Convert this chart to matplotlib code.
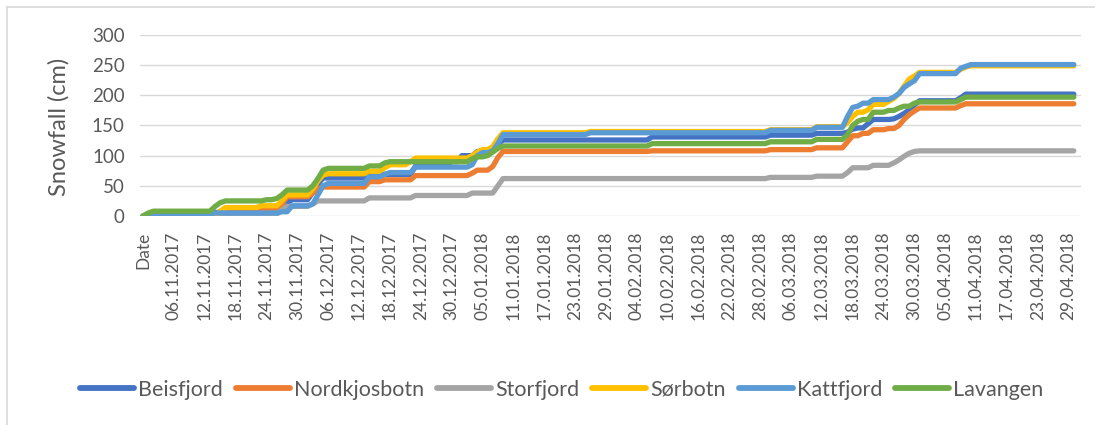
import pandas as pd
import numpy as np
import matplotlib
matplotlib.use("Agg")
import matplotlib.pyplot as plt
from matplotlib.lines import Line2D

# ---------------------------------------------------------------
# data: new snow per day (cm), only the days with snowfall listed
# ---------------------------------------------------------------
stations = ["Beisfjord", "Nordkjosbotn", "Storfjord", "Sørbotn", "Kattfjord", "Lavangen"]
colors = ["#4472C4", "#ED7D31", "#A5A5A5", "#FFC000", "#5B9BD5", "#70AD47"]

beisfjord_days = ["01.11.2017", "14.11.2017", "16.11.2017", "27.11.2017", "28.11.2017", "29.11.2017",
                  "03.12.2017", "04.12.2017", "05.12.2017", "14.12.2017", "23.12.2017", "30.12.2017",
                  "01.01.2018", "04.01.2018", "08.01.2018", "09.01.2018", "07.02.2018", "02.03.2018",
                  "11.03.2018", "17.03.2018", "18.03.2018", "19.03.2018", "21.03.2018", "22.03.2018",
                  "26.03.2018", "27.03.2018", "28.03.2018", "29.03.2018", "30.03.2018", "31.03.2018",
                  "08.04.2018", "09.04.2018"]
beisfjord_cm = [3, 3, 2, 6, 8, 5, 12, 14, 10, 6, 14, 7, 10, 7, 12, 7, 5, 3, 3, 2, 5, 2, 7, 7,
                1, 4, 5, 6, 8, 7, 5, 6]

nordkjosbotn_days = ["15.11.2017", "16.11.2017", "27.11.2017", "28.11.2017", "03.12.2017", "04.12.2017",
                     "05.12.2017", "14.12.2017", "17.12.2017", "23.12.2017", "03.01.2018", "04.01.2018",
                     "07.01.2018", "08.01.2018", "09.01.2018", "07.02.2018", "02.03.2018", "11.03.2018",
                     "17.03.2018", "18.03.2018", "20.03.2018", "22.03.2018", "25.03.2018", "27.03.2018",
                     "28.03.2018", "29.03.2018", "30.03.2018", "31.03.2018", "08.04.2018", "09.04.2018"]
nordkjosbotn_cm = [8, 2, 10, 12, 6, 7, 3, 9, 3, 7, 4, 5, 6, 15, 10, 1, 2, 3, 10, 10, 4, 6, 2, 5,
                   10, 8, 6, 5, 4, 3]

storfjord_days = ["15.11.2017", "27.11.2017", "28.11.2017", "03.12.2017", "04.12.2017", "14.12.2017",
                  "23.12.2017", "03.01.2018", "08.01.2018", "09.01.2018", "02.03.2018", "11.03.2018",
                  "17.03.2018", "18.03.2018", "22.03.2018", "26.03.2018", "27.03.2018", "28.03.2018",
                  "29.03.2018", "30.03.2018", "31.03.2018"]
storfjord_cm = [3, 7, 6, 4, 5, 5, 4, 4, 12, 12, 2, 2, 6, 8, 4, 4, 5, 6, 5, 3, 1]

sorbotn_days = ["15.11.2017", "16.11.2017", "23.11.2017", "27.11.2017", "28.11.2017", "03.12.2017",
                "04.12.2017", "05.12.2017", "06.12.2017", "14.12.2017", "17.12.2017", "18.12.2017",
                "22.12.2017", "23.12.2017", "03.01.2018", "04.01.2018", "05.01.2018", "07.01.2018",
                "08.01.2018", "09.01.2018", "26.01.2018", "02.03.2018", "11.03.2018", "17.03.2018",
                "18.03.2018", "19.03.2018", "21.03.2018", "22.03.2018", "25.03.2018", "26.03.2018",
                "27.03.2018", "28.03.2018", "29.03.2018", "30.03.2018", "31.03.2018", "08.04.2018",
                "09.04.2018", "10.04.2018"]
sorbotn_cm = [8, 6, 3, 8, 10, 10, 13, 10, 2, 4, 6, 5, 5, 6, 4, 6, 4, 5, 13, 10, 2, 3, 5, 7,
              10, 7, 4, 9, 5, 5, 8, 12, 12, 5, 6, 5, 4, 2]

kattfjord_days = ["01.11.2017", "14.11.2017", "27.11.2017", "29.11.2017", "03.12.2017", "04.12.2017",
                  "05.12.2017", "06.12.2017", "14.12.2017", "17.12.2017", "18.12.2017", "23.12.2017",
                  "03.01.2018", "04.01.2018", "05.01.2018", "07.01.2018", "08.01.2018", "09.01.2018",
                  "26.01.2018", "02.03.2018", "11.03.2018", "17.03.2018", "18.03.2018", "19.03.2018",
                  "20.03.2018", "22.03.2018", "26.03.2018", "27.03.2018", "28.03.2018", "29.03.2018",
                  "30.03.2018", "31.03.2018", "08.04.2018", "09.04.2018", "10.04.2018"]
kattfjord_cm = [3, 2, 2, 10, 3, 15, 15, 4, 11, 4, 3, 9, 4, 15, 5, 3, 12, 15, 3, 4, 5, 18, 15, 2,
                5, 6, 4, 6, 10, 6, 5, 12, 9, 3, 3]

lavangen_days = ["01.11.2017", "02.11.2017", "14.11.2017", "15.11.2017", "16.11.2017", "24.11.2017",
                 "26.11.2017", "27.11.2017", "28.11.2017", "03.12.2017", "04.12.2017", "05.12.2017",
                 "06.12.2017", "14.12.2017", "17.12.2017", "18.12.2017", "03.01.2018", "04.01.2018",
                 "06.01.2018", "07.01.2018", "08.01.2018", "09.01.2018", "07.02.2018", "02.03.2018",
                 "11.03.2018", "17.03.2018", "18.03.2018", "19.03.2018", "20.03.2018", "22.03.2018",
                 "25.03.2018", "27.03.2018", "28.03.2018", "30.03.2018", "31.03.2018", "08.04.2018",
                 "09.04.2018"]
lavangen_cm = [5, 3, 8, 6, 3, 2, 2, 6, 8, 7, 12, 14, 3, 4, 5, 2, 5, 3, 2, 6, 6, 4, 4, 3,
               4, 8, 15, 7, 3, 12, 3, 4, 3, 5, 2, 4, 4]

station_days = [beisfjord_days, nordkjosbotn_days, storfjord_days, sorbotn_days, kattfjord_days, lavangen_days]
station_cm = [beisfjord_cm, nordkjosbotn_cm, storfjord_cm, sorbotn_cm, kattfjord_cm, lavangen_cm]

# category axis: header cell "Date" followed by every day of the season
season = pd.date_range("2017-11-01", "2018-04-30").strftime("%d.%m.%Y").tolist()
categories = ["Date"] + season

TEXT = "#595959"
GRID = "#D9D9D9"
plt.rcParams["font.family"] = ["Lato", "DejaVu Sans"]

fig = plt.figure(figsize=(11.01, 4.25), dpi=100)
W, H = 1101, 425
ax = fig.add_axes([140 / W, (H - 216) / H, (1081 - 140) / W, (216 - 35) / H])

x = np.arange(len(categories))
for name, col, days, cm in zip(stations, colors, station_days, station_cm):
    daily = pd.Series(0.0, index=season)
    daily[days] = cm
    total = np.concatenate([[0.0], daily.cumsum().values])   # "Date" row plotted as 0
    ax.plot(x, total, color=col, lw=3.8, solid_joinstyle="round", solid_capstyle="round", label=name)

ax.set_xlim(-0.6, len(categories) + 0.4)
ax.set_ylim(0, 300)
ax.set_yticks(range(0, 301, 50))
ax.set_xticks(x[::6])
ax.set_xticklabels(categories[::6], rotation=90, fontsize=12.5, color=TEXT)
ax.tick_params(axis="y", length=0, labelsize=13.5, labelcolor=TEXT, pad=11)
ax.tick_params(axis="x", length=0, pad=11)
ax.grid(axis="y", color=GRID, lw=1)
ax.set_axisbelow(True)
for s in ax.spines.values():
    s.set_visible(False)

fig.text(59 / W, 1 - 127 / H, "Snowfall (cm)", rotation=90, ha="center", va="center",
         fontsize=17, color=TEXT)

handles = [Line2D([0], [0], color=c, lw=4.2, solid_capstyle="round") for c in colors]
leg = fig.legend(handles, stations, loc="center", bbox_to_anchor=(562 / W, 1 - 390 / H), ncol=6,
                 frameon=False, fontsize=15.5, handlelength=2.5, handletextpad=0.2, columnspacing=0.6)
for t in leg.get_texts():
    t.set_color(TEXT)

# chart area border (partly cropped in the original)
fig.add_artist(plt.Line2D([7 / W, 7 / W], [0, 1 - 7 / H], color=GRID, lw=1.2))
fig.add_artist(plt.Line2D([7 / W, 1 - 7 / W], [1 - 7 / H, 1 - 7 / H], color=GRID, lw=1.2))

fig.savefig("out.png", dpi=100)
